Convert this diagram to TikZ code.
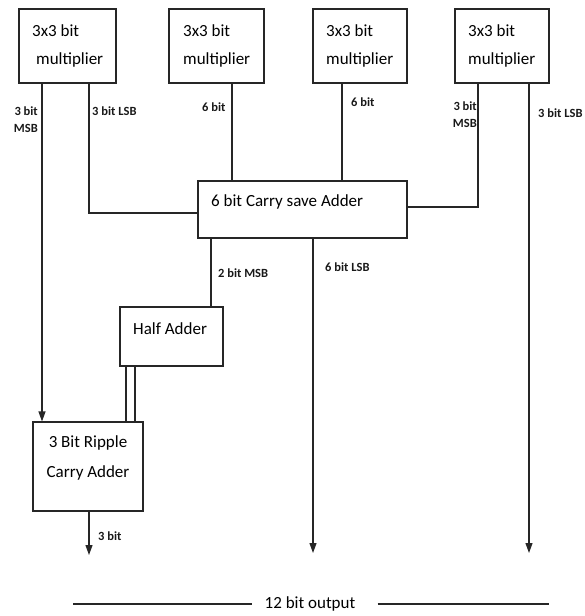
\documentclass[tikz,border=0pt]{standalone}
\usepackage{fontspec}
\setmainfont{Carlito}
\usetikzlibrary{arrows.meta}
\begin{document}
\begin{tikzpicture}[x=1pt,y=-1pt,
  wire/.style={line width=1.1pt,draw=black!85},
  arr/.style={wire,-{Triangle[width=7pt,length=10pt]}},
  box/.style={draw=black!85,line width=1.1pt,inner sep=0pt,fill=white},
  boxtext/.style={font=\fontsize{17}{29}\selectfont,inner sep=0pt,anchor=west},
  lbl/.style={font=\fontsize{12.5}{17}\selectfont\bfseries,inner sep=0pt,text=black!90}]
\useasboundingbox (0,0) rectangle (585,616);

% multiplier blocks
\node[box,minimum width=97pt,minimum height=74pt] (m1) at (67.5,46) {};
\node[box,minimum width=95pt,minimum height=74pt] (m2) at (216.5,46) {};
\node[box,minimum width=94pt,minimum height=74pt] (m3) at (360,46) {};
\node[box,minimum width=94pt,minimum height=74pt] (m4) at (502,46) {};
\node[boxtext] (m1a) at (32,31) {3x3 bit};
\node[boxtext] (m1b) at (36,60) {multiplier};
\node[boxtext] (m2a) at (183,31) {3x3 bit};
\node[boxtext] (m2b) at (183,60) {multiplier};
\node[boxtext] (m3a) at (326,31) {3x3 bit};
\node[boxtext] (m3b) at (326,60) {multiplier};
\node[boxtext] (m4a) at (468,31) {3x3 bit};
\node[boxtext] (m4b) at (468,60) {multiplier};

% adders
\node[box,minimum width=209pt,minimum height=57pt] (csa) at (302.5,209.5) {};
\node[boxtext] (csat) at (211,202) {6 bit Carry save Adder};
\node[box,minimum width=103pt,minimum height=59pt] (ha) at (171.5,336.5) {};
\node[boxtext] (hat) at (133,329) {Half Adder};
\node[box,minimum width=110pt,minimum height=89pt] (rca) at (88,466.5) {};
\node[font=\fontsize{17}{30}\selectfont,inner sep=0pt,align=center] (rcat) at (88,458) {3 Bit Ripple\\Carry Adder};

% bend points and free ends
\coordinate (c1) at (89,213);
\coordinate (c4) at (478,207);
\coordinate (o1) at (89,555);
\coordinate (o2) at (313,553);
\coordinate (o3) at (529,553);

% connectors from the multipliers
\draw[arr] (m1.south -| 42,0) -- (rca.north -| 42,0);
\draw[wire] (m1.south -| c1) -- (c1) -- (csa.west |- c1);
\draw[wire] (m2.south -| 232,0) -- (csa.north -| 232,0);
\draw[wire] (m3.south -| 342,0) -- (csa.north -| 342,0);
\draw[wire] (m4.south -| c4) -- (c4) -- (csa.east |- c4);
\draw[arr] (m4.south -| o3) -- (o3);

% connectors from the adders
\draw[wire] (csa.south -| 211,0) -- (ha.north -| 211,0);
\draw[arr] (csa.south -| o2) -- (o2);
\draw[wire] (ha.south -| 126,0) -- (rca.north -| 126,0);
\draw[wire] (ha.south -| 135,0) -- (rca.north -| 135,0);
\draw[arr] (rca.south -| o1) -- (o1);

% bit-width labels
\node[lbl,anchor=east,align=right] (l1) at (38,120) {3 bit\\MSB};
\node[lbl,anchor=west] (l2) at (92,111) {3 bit LSB};
\node[lbl,anchor=west] (l3) at (202,107) {6 bit};
\node[lbl,anchor=west] (l4) at (351,102) {6 bit};
\node[lbl,anchor=east,align=right] (l5) at (477,115) {3 bit\\MSB};
\node[lbl,anchor=west] (l6) at (538,113) {3 bit LSB};
\node[lbl,anchor=west] (l7) at (218,273) {2 bit MSB};
\node[lbl,anchor=west] (l8) at (325,267) {6 bit LSB};
\node[lbl,anchor=west] (l9) at (98,536) {3 bit};

% output bus caption
\node[font=\fontsize{17}{20}\selectfont,inner sep=0pt] (out) at (310,604) {12 bit output};
\coordinate (bl) at (73,604);
\coordinate (br) at (549,604);
\draw[wire] (bl) -- ([xshift=-13pt]out.west |- bl);
\draw[wire] ([xshift=22pt]out.east |- br) -- (br);
\end{tikzpicture}
\end{document}
